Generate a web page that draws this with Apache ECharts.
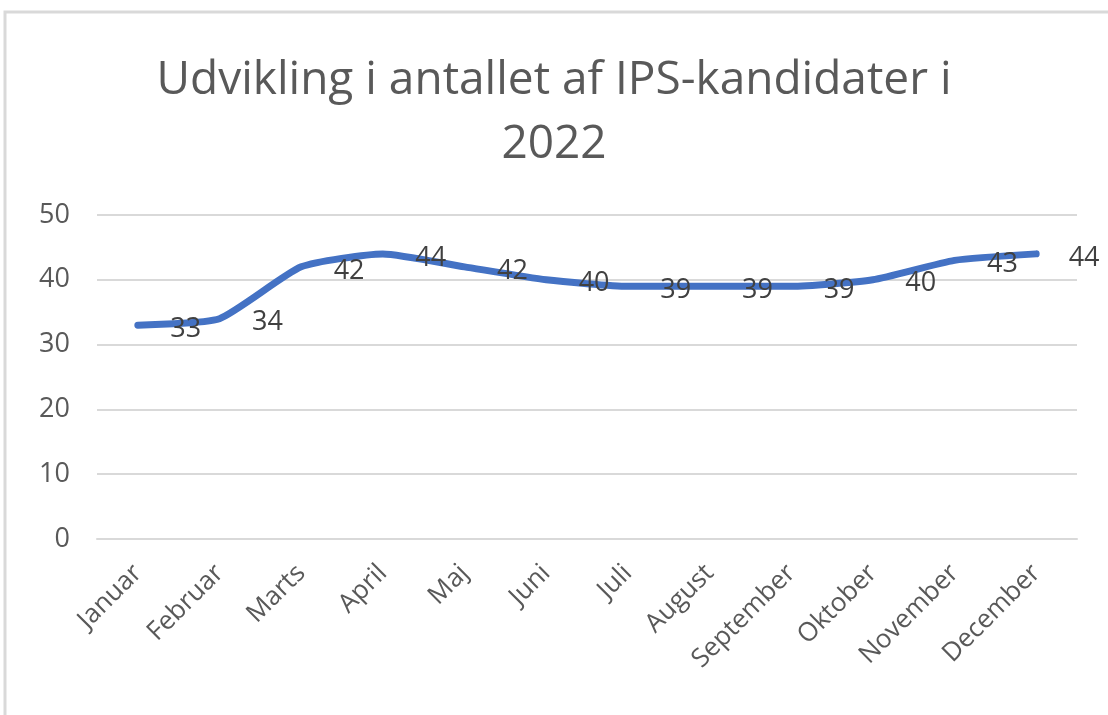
<!DOCTYPE html>
<html>
<head>
<meta charset="utf-8">
<script src="https://cdn.jsdelivr.net/npm/echarts@6/dist/echarts.min.js"></script>
<style>html,body{margin:0;padding:0;background:#fff}#c{width:1108px;height:715px}</style>
</head>
<body>
<div id="c"></div>
<script>
const titleText = "Udvikling i antallet af IPS-kandidater i\n2022";
const categories = ["Januar","Februar","Marts","April","Maj","Juni","Juli","August","September","Oktober","November","December"];
const values = [33,34,42,44,42,40,39,39,39,40,43,44];
const yTicks = {min:0, max:50, interval:10};

const chart = echarts.init(document.getElementById('c'), null, {renderer:'canvas'});
const FONT = '"Open Sans", "Liberation Sans", sans-serif';
chart.setOption({
  backgroundColor:'#fff',
  animation:false,
  graphic:[{type:'rect', shape:{x:5,y:12,width:1200,height:800}, style:{fill:'none', stroke:'#d9d9d9', lineWidth:3}, silent:true}],
  title:{text:titleText, left:'center', top:44, textStyle:{fontFamily:FONT, fontSize:46, fontWeight:'normal', color:'#595959', lineHeight:64}},
  grid:{left:97, right:31, top:215, bottom:176, containLabel:false},
  xAxis:{type:'category', data:categories, boundaryGap:true,
    axisLine:{show:true, lineStyle:{color:'#d9d9d9', width:2}},
    axisTick:{show:false},
    axisLabel:{rotate:45, interval:0, margin:30, color:'#595959', fontFamily:FONT, fontSize:26}},
  yAxis:{type:'value', min:yTicks.min, max:yTicks.max, interval:yTicks.interval,
    axisLine:{show:false}, axisTick:{show:false},
    splitLine:{lineStyle:{color:'#d9d9d9', width:2}},
    axisLabel:{margin:27, color:'#595959', fontFamily:FONT, fontSize:27}},
  series:[{type:'line', data:values, smooth:0.18, symbol:'circle', symbolSize:1,
    itemStyle:{color:'#4472C4'},
    lineStyle:{color:'#4472C4', width:7, cap:'round', join:'round'},
    label:{show:true, position:'right', distance:32, offset:[0,4], color:'#404040', fontFamily:FONT, fontSize:27}}]
});
</script>
</body>
</html>
